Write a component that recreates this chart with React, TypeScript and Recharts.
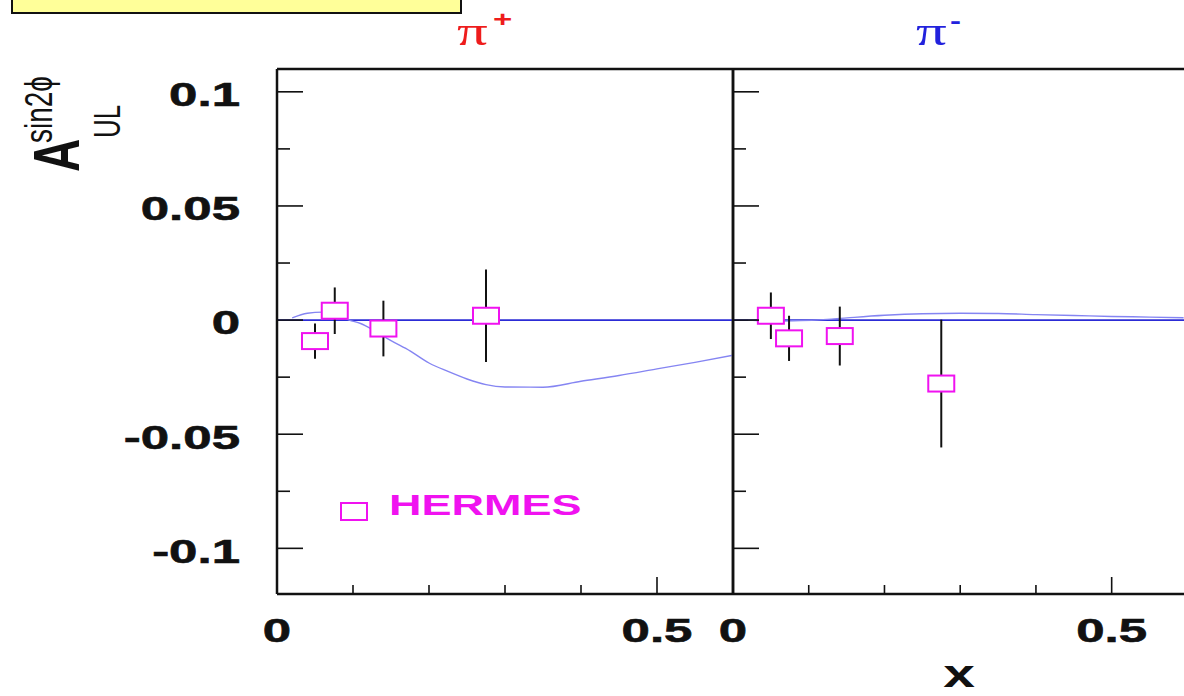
import {
  ComposedChart,
  ErrorBar,
  Line,
  ReferenceLine,
  Scatter,
  XAxis,
  YAxis,
} from "recharts";

const FONT = '"Liberation Sans", Arial, Helvetica, sans-serif';
const INK = "#111";
const MAGENTA = "#f012f0";

// axis ticks, shared by both panels (blank label = minor tick)
const xTicks = [0, 0.1, 0.2, 0.3, 0.4, 0.5];
const xTickLabels = ["0", "", "", "", "", "0.5"];
const yTicks = [-0.1, -0.075, -0.05, -0.025, 0, 0.025, 0.05, 0.075, 0.1];
const yTickLabels = ["-0.1", "", "-0.05", "", "0", "", "0.05", "", "0.1"];

// HERMES data, pi+
const piPlusX = [0.05, 0.076, 0.14, 0.275];
const piPlusA = [-0.0092, 0.0041, -0.0037, 0.0019];
const piPlusErr = [0.0077, 0.0102, 0.0122, 0.0203];

// HERMES data, pi-
const piMinusX = [0.05, 0.074, 0.141, 0.275];
const piMinusA = [0.0019, -0.008, -0.007, -0.0278];
const piMinusErr = [0.0102, 0.0099, 0.0129, 0.028];

// model curves
const piPlusCurveX = [0.02, 0.04, 0.06, 0.08, 0.095, 0.11, 0.13, 0.15, 0.175, 0.2, 0.225, 0.25, 0.275, 0.3, 0.35, 0.4, 0.45, 0.5, 0.55, 0.6];
const piPlusCurve = [0.001, 0.003, 0.0035, 0.0022, 0, -0.0015, -0.005, -0.009, -0.0135, -0.0188, -0.0225, -0.0258, -0.0283, -0.0293, -0.0294, -0.0268, -0.0243, -0.0214, -0.0185, -0.0154];
const piMinusCurveX = [0.02, 0.05, 0.08, 0.11, 0.13, 0.16, 0.2, 0.25, 0.3, 0.35, 0.4, 0.45, 0.5, 0.55, 0.595];
const piMinusCurve = [0, -0.0004, -0.0003, 0, 0.0004, 0.0012, 0.0021, 0.0028, 0.003, 0.0029, 0.0024, 0.002, 0.0016, 0.0013, 0.001];

const toPoints = (xs: number[], ys: number[], errs: number[]) =>
  xs.map((x, i) => ({ x, y: ys[i], err: errs[i] }));
const toCurve = (xs: number[], ys: number[]) => xs.map((x, i) => ({ x, y: ys[i] }));

const findIdx = (arr: number[], v: number) => arr.findIndex((t) => Math.abs(t - v) < 1e-9);

function YTick(props: any) {
  const { x, y, payload, showLabels } = props;
  const label = yTickLabels[findIdx(yTicks, payload.value)] ?? "";
  const len = label ? 26 : 13;
  return (
    <g>
      <line x1={x} x2={x + len} y1={y} y2={y} stroke={INK} strokeWidth={1.6} />
      {showLabels && label && (
        <text
          transform={`translate(${x - 37},${y}) scale(1.5,1)`}
          textAnchor="end"
          dy="0.42em"
          fontFamily={FONT}
          fontWeight="bold"
          fontSize={34}
          fill={INK}
          stroke={INK}
          strokeWidth={0.6}
        >
          {label}
        </text>
      )}
    </g>
  );
}

function XTick(props: any) {
  const { x, y, payload } = props;
  const label = xTickLabels[findIdx(xTicks, payload.value)] ?? "";
  const len = payload.value === 0 ? 0 : label ? 17 : 9;
  return (
    <g>
      {len > 0 && <line x1={x} x2={x} y1={y} y2={y - len} stroke={INK} strokeWidth={1.6} />}
      {label && (
        <text
          transform={`translate(${x},${y + 48}) scale(1.5,1)`}
          textAnchor="middle"
          fontFamily={FONT}
          fontWeight="bold"
          fontSize={34}
          fill={INK}
          stroke={INK}
          strokeWidth={0.6}
        >
          {label}
        </text>
      )}
    </g>
  );
}

const HermesBox = (props: any) => {
  const { cx, cy } = props;
  return (
    <rect x={cx - 13} y={cy - 8} width={26} height={16} fill="#fff" stroke={MAGENTA} strokeWidth={2} />
  );
};

function Panel({
  points,
  curve,
  xMax,
  yAxisWidth,
  width,
  showYLabels,
  rightEdge,
}: {
  points: { x: number; y: number; err: number }[];
  curve: { x: number; y: number }[];
  xMax: number;
  yAxisWidth: number;
  width: number;
  showYLabels: boolean;
  rightEdge: boolean;
}) {
  const axisLine = { stroke: INK, strokeWidth: 2.5 };
  return (
    <ComposedChart
      width={width}
      height={696}
      margin={{ top: 69, right: rightEdge ? 7 : 0, bottom: 2, left: 0 }}
    >
      <XAxis
        type="number"
        dataKey="x"
        domain={[0, xMax]}
        ticks={xTicks}
        interval={0}
        allowDataOverflow
        height={100}
        tickSize={0}
        tickMargin={0}
        tickLine={false}
        axisLine={axisLine}
        tick={(p: any) => <XTick {...p} />}
      />
      <YAxis
        type="number"
        dataKey="y"
        domain={[-0.12, 0.11]}
        ticks={yTicks}
        interval={0}
        allowDataOverflow
        width={yAxisWidth}
        tickSize={0}
        tickMargin={0}
        tickLine={false}
        axisLine={axisLine}
        tick={(p: any) => <YTick {...p} showLabels={showYLabels} />}
      />
      <ReferenceLine y={0.11} stroke={INK} strokeWidth={2.5} ifOverflow="visible" />
      {rightEdge && <ReferenceLine x={xMax} stroke={INK} strokeWidth={2.5} ifOverflow="visible" />}
      <ReferenceLine y={0} stroke="#2c2cd6" strokeWidth={1.8} />
      <Line
        data={curve}
        dataKey="y"
        type="monotone"
        stroke="#8585f2"
        strokeWidth={1.4}
        dot={false}
        isAnimationActive={false}
      />
      <Scatter data={points} dataKey="y" shape={HermesBox} isAnimationActive={false}>
        <ErrorBar dataKey="err" direction="y" width={0} stroke={INK} strokeWidth={2} />
      </Scatter>
    </ComposedChart>
  );
}

export default function App() {
  return (
    <div
      style={{
        position: "relative",
        width: 1184,
        height: 696,
        overflow: "hidden",
        background: "#fff",
      }}
    >
      <style>{"body{margin:0}"}</style>
      <div style={{ position: "absolute", left: 0, top: 0 }}>
        <Panel
          points={toPoints(piPlusX, piPlusA, piPlusErr)}
          curve={toCurve(piPlusCurveX, piPlusCurve)}
          xMax={0.6}
          yAxisWidth={277}
          width={740}
          showYLabels
          rightEdge
        />
      </div>
      <div style={{ position: "absolute", left: 700, top: 0 }}>
        <Panel
          points={toPoints(piMinusX, piMinusA, piMinusErr)}
          curve={toCurve(piMinusCurveX, piMinusCurve)}
          xMax={0.5955}
          yAxisWidth={33}
          width={484}
          showYLabels={false}
          rightEdge={false}
        />
      </div>
      <svg
        width={1184}
        height={696}
        style={{ position: "absolute", left: 0, top: 0, pointerEvents: "none" }}
      >
        <rect x={12} y={-2} width={449} height={15} fill="#ffff99" stroke={INK} strokeWidth={2} />

        {/* panel titles */}
        <g fill="#ee1c1c">
          <text transform="translate(457,45) scale(1.45,1)" fontFamily='"Liberation Serif", serif' fontSize={42}>
            π
          </text>
          <text transform="translate(493,27) scale(1.5,1)" fontFamily={FONT} fontWeight="bold" fontSize={22}>
            +
          </text>
        </g>
        <g fill="#2222dd">
          <text transform="translate(916,45) scale(1.45,1)" fontFamily='"Liberation Serif", serif' fontSize={42}>
            π
          </text>
          <text transform="translate(950,28) scale(1.5,1)" fontFamily={FONT} fontWeight="bold" fontSize={22}>
            -
          </text>
        </g>

        {/* y axis title */}
        <g transform="translate(79,172) rotate(-90) scale(1,1.4)" fill={INK} fontFamily={FONT}>
          <text x={0} y={0} fontSize={46} fontWeight="bold">
            A
          </text>
          <text x={29} y={-19} fontSize={28}>
            sin2ϕ
          </text>
          <text x={34} y={29} fontSize={26}>
            UL
          </text>
        </g>

        {/* x axis title */}
        <text
          transform="translate(959,687) scale(1.5,1)"
          textAnchor="middle"
          fontFamily={FONT}
          fontWeight="bold"
          fontSize={38}
          fill={INK}
        >
          x
        </text>

        {/* legend */}
        <rect x={341} y={503} width={26} height={17} fill="#fff" stroke={MAGENTA} strokeWidth={2} />
        <text
          transform="translate(389,515) scale(1.5,1)"
          fontFamily={FONT}
          fontWeight="bold"
          fontSize={30}
          fill={MAGENTA}
        >
          HERMES
        </text>
      </svg>
    </div>
  );
}
